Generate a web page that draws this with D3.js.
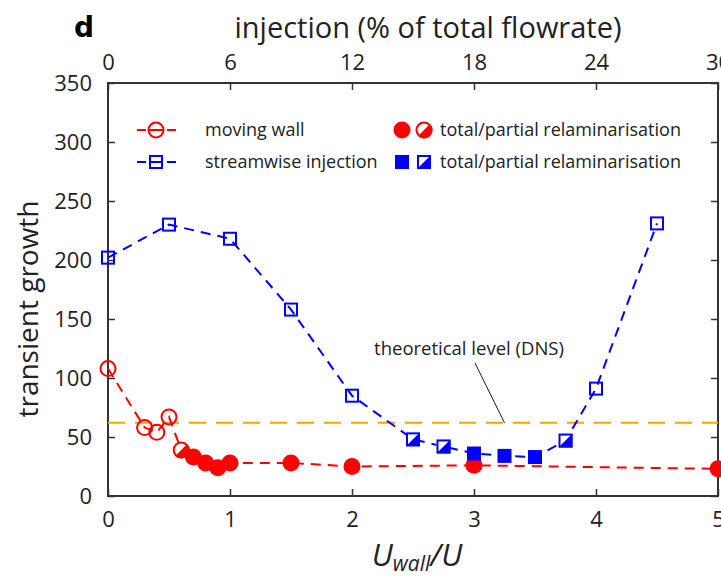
<!DOCTYPE html>
<html>
<head>
<meta charset="utf-8">
<script src="https://cdn.jsdelivr.net/npm/d3@7"></script>
<style>
  body { margin: 0; background: #fff; }
  svg { display: block; }
  text { font-family: "Open Sans", sans-serif; }
</style>
</head>
<body>
<div id="chart"></div>
<script>
// moving wall series
const wallU = [0, 0.3, 0.4, 0.5, 0.6, 0.7, 0.8, 0.9, 1.0, 1.5, 2.0, 3.0, 5.0];
const wallGrowth = [108, 58, 54, 67, 39, 33, 28, 24, 28, 28, 25, 26, 23];
const wallState = ["open", "open", "open", "open", "partial", "total", "total", "total", "total", "total", "total", "total", "total"];

// streamwise injection series
const injU = [0, 0.5, 1.0, 1.5, 2.0, 2.5, 2.75, 3.0, 3.25, 3.5, 3.75, 4.0, 4.5];
const injGrowth = [202, 230, 218, 158, 85, 48, 42, 36, 34, 33, 47, 91, 231];
const injState = ["open", "open", "open", "open", "open", "partial", "partial", "total", "total", "total", "partial", "open", "open"];

const dnsLevel = 62;

const xTicks = [0, 1, 2, 3, 4, 5];
const yTicks = [0, 50, 100, 150, 200, 250, 300, 350];
const topTicks = [0, 6, 12, 18, 24, 30];

const width = 721, height = 579;

const svg = d3.select("#chart").append("svg")
    .attr("width", width)
    .attr("height", height);

const x = d3.scaleLinear().domain([0, 5]).range([108, 718]);
const xTop = d3.scaleLinear().domain([0, 30]).range([108, 718]);
const y = d3.scaleLinear().domain([0, 350]).range([496, 83]);

const RED = "#ff0000", BLUE = "#0000ff", ORANGE = "#ffa200";
const axisColor = "#333";
const ink = "#222";

// frame
svg.append("rect")
    .attr("x", x(0)).attr("y", y(350))
    .attr("width", x(5) - x(0)).attr("height", y(0) - y(350))
    .attr("fill", "none").attr("stroke", axisColor).attr("stroke-width", 2);

// axes (inward ticks)
function styleAxis(g) {
    g.select(".domain").remove();
    g.selectAll(".tick line").attr("stroke", axisColor).attr("stroke-width", 1.5);
    g.selectAll(".tick text").attr("fill", ink).style("font-size", "22px")
        .style("font-family", "'Open Sans', sans-serif");
}

svg.append("g").attr("transform", `translate(0,${y(0)})`)
    .call(d3.axisBottom(x).tickValues(xTicks).tickSizeInner(-7).tickPadding(15).tickFormat(d3.format("d")))
    .call(styleAxis);

svg.append("g").attr("transform", `translate(0,${y(350)})`)
    .call(d3.axisTop(xTop).tickValues(topTicks).tickSizeInner(-7).tickPadding(13).tickFormat(d3.format("d")))
    .call(styleAxis);

svg.append("g").attr("transform", `translate(${x(0)},0)`)
    .call(d3.axisLeft(y).tickValues(yTicks).tickSizeInner(-7).tickPadding(16))
    .call(styleAxis);

svg.append("g").attr("transform", `translate(${x(5)},0)`)
    .call(d3.axisRight(y).tickValues(yTicks).tickSizeInner(-7).tickFormat(""))
    .call(styleAxis);

// labels
svg.append("text").attr("x", 74).attr("y", 37)
    .style("font-family", "'DejaVu Sans', sans-serif").style("font-weight", "bold").style("font-size", "28px")
    .attr("fill", "#000")
    .text("d");

svg.append("text").attr("x", 428).attr("y", 38).attr("text-anchor", "middle")
    .style("font-size", "29px").attr("fill", ink)
    .text("injection (% of total flowrate)");

svg.append("text")
    .attr("transform", "translate(38,309) rotate(-90)")
    .attr("text-anchor", "middle")
    .style("font-size", "28px").attr("fill", ink)
    .text("transient growth");

const xl = svg.append("text").attr("x", 417).attr("y", 566).attr("text-anchor", "middle")
    .style("font-style", "italic").attr("fill", ink);
xl.append("tspan").style("font-size", "31px").text("U");
xl.append("tspan").style("font-size", "21px").attr("dy", 5).text("wall");
xl.append("tspan").style("font-size", "31px").attr("dy", -5).text("/U");

// DNS level
svg.append("line")
    .attr("x1", x(0)).attr("x2", x(5)).attr("y1", y(dnsLevel)).attr("y2", y(dnsLevel))
    .attr("stroke", ORANGE).attr("stroke-width", 2).attr("stroke-dasharray", "17,10");

svg.append("line")
    .attr("x1", 475).attr("y1", 363).attr("x2", x(3.25)).attr("y2", y(dnsLevel))
    .attr("stroke", "#000").attr("stroke-width", 0.9);
svg.append("text").attr("x", 469).attr("y", 355).attr("text-anchor", "middle")
    .style("font-size", "18.5px").attr("fill", ink)
    .text("theoretical level (DNS)");

// series lines
const line = d3.line().x(d => x(d[0])).y(d => y(d[1]));

svg.append("path")
    .datum(d3.zip(wallU, wallGrowth))
    .attr("d", line).attr("fill", "none")
    .attr("stroke", RED).attr("stroke-width", 2).attr("stroke-dasharray", "10,7");

svg.append("path")
    .datum(d3.zip(injU, injGrowth))
    .attr("d", line).attr("fill", "none")
    .attr("stroke", BLUE).attr("stroke-width", 2).attr("stroke-dasharray", "10,7");

// markers
function circleMarker(g, cx, cy, state, color) {
    const r = 8.5;
    if (state === "total") {
        g.append("circle").attr("cx", cx).attr("cy", cy).attr("r", r).attr("fill", color);
    } else if (state === "partial") {
        const c = r * Math.SQRT1_2;
        g.append("circle").attr("cx", cx).attr("cy", cy).attr("r", r).attr("fill", "#fff");
        g.append("path")
            .attr("d", `M${cx - c},${cy + c} A${r},${r} 0 0 0 ${cx + c},${cy - c} Z`)
            .attr("fill", color);
        g.append("circle").attr("cx", cx).attr("cy", cy).attr("r", r - 1)
            .attr("fill", "none").attr("stroke", color).attr("stroke-width", 2);
    } else {
        g.append("circle").attr("cx", cx).attr("cy", cy).attr("r", r - 1)
            .attr("fill", "none").attr("stroke", color).attr("stroke-width", 2);
    }
}

function squareMarker(g, cx, cy, state, color) {
    const h = 7;
    if (state === "total") {
        g.append("rect").attr("x", cx - h).attr("y", cy - h).attr("width", 2 * h).attr("height", 2 * h).attr("fill", color);
    } else if (state === "partial") {
        g.append("rect").attr("x", cx - h).attr("y", cy - h).attr("width", 2 * h).attr("height", 2 * h).attr("fill", "#fff");
        g.append("path")
            .attr("d", `M${cx - h},${cy + h} L${cx + h},${cy - h} L${cx + h},${cy + h} Z`)
            .attr("fill", color);
        g.append("rect").attr("x", cx - h + 1).attr("y", cy - h + 1).attr("width", 2 * h - 2).attr("height", 2 * h - 2)
            .attr("fill", "none").attr("stroke", color).attr("stroke-width", 2);
    } else {
        g.append("rect").attr("x", cx - h + 1).attr("y", cy - h + 1).attr("width", 2 * h - 2).attr("height", 2 * h - 2)
            .attr("fill", "none").attr("stroke", color).attr("stroke-width", 2);
    }
}

const marks = svg.append("g");
wallU.forEach((u, i) => circleMarker(marks, x(u), y(wallGrowth[i]), wallState[i], RED));
injU.forEach((u, i) => squareMarker(marks, x(u), y(injGrowth[i]), injState[i], BLUE));

// legend
const leg = svg.append("g");
const legRows = [
    { label: "moving wall", color: RED, shape: circleMarker, y: 130 },
    { label: "streamwise injection", color: BLUE, shape: squareMarker, y: 162 }
];
legRows.forEach(r => {
    leg.append("line").attr("x1", 137).attr("x2", 146).attr("y1", r.y).attr("y2", r.y)
        .attr("stroke", r.color).attr("stroke-width", 2);
    leg.append("line").attr("x1", 167).attr("x2", 176).attr("y1", r.y).attr("y2", r.y)
        .attr("stroke", r.color).attr("stroke-width", 2);
    r.shape(leg, 156, r.y, "open", r.color);
    leg.append("line").attr("x1", 149).attr("x2", 163).attr("y1", r.y).attr("y2", r.y)
        .attr("stroke", r.color).attr("stroke-width", 2);
    leg.append("text").attr("x", 205).attr("y", r.y + 6)
        .style("font-size", "18px").attr("fill", ink)
        .text(r.label);
    r.shape(leg, 402, r.y, "total", r.color);
    r.shape(leg, 424, r.y, "partial", r.color);
    leg.append("text").attr("x", 440).attr("y", r.y + 6)
        .style("font-size", "18px").attr("fill", ink)
        .text("total/partial relaminarisation");
});
</script>
</body>
</html>
